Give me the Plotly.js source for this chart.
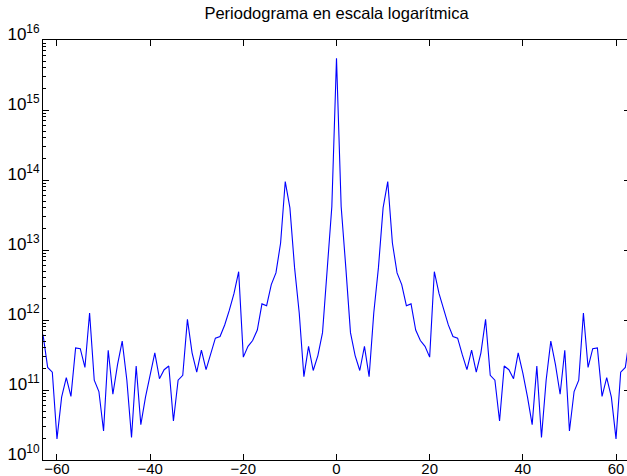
<!DOCTYPE html>
<html>
<head>
<meta charset="utf-8">
<script src="https://cdn.plot.ly/plotly-3.0.1.min.js"></script>
<style>
  html, body { margin: 0; padding: 0; overflow: hidden; background: #fff; }
  #chart { width: 633px; height: 476px; }
</style>
</head>
<body>
<div id="chart"></div>
<script>
// Frequency index (fftshift order) and periodogram power
const freq = [
  -63,-62,-61,-60,-59,-58,-57,-56,-55,-54,-53,-52,-51,-50,-49,-48,-47,-46,-45,-44,
  -43,-42,-41,-40,-39,-38,-37,-36,-35,-34,-33,-32,-31,-30,-29,-28,-27,-26,-25,-24,
  -23,-22,-21,-20,-19,-18,-17,-16,-15,-14,-13,-12,-11,-10,-9,-8,-7,-6,-5,-4,
  -3,-2,-1,0,1,2,3,4,5,6,7,8,9,10,11,12,13,14,15,16,
  17,18,19,20,21,22,23,24,25,26,27,28,29,30,31,32,33,34,35,36,
  37,38,39,40,41,42,43,44,45,46,47,48,49,50,51,52,53,54,55,56,
  57,58,59,60,61,62,63
];

const power = [
  6.2e11, 2.1e11, 1.8e11, 2.0e10, 7.9e10, 1.5e11, 8.1e10, 4.0e11, 3.9e11, 2.1e11,
  1.26e12, 1.38e11, 9.5e10, 2.6e10, 3.7e11, 8.7e10, 2.3e11, 5.0e11, 1.38e11, 2.1e10,
  2.2e11, 3.2e10, 7.9e10, 1.74e11, 3.4e11, 1.45e11, 1.95e11, 2.2e11, 3.6e10, 1.38e11,
  1.62e11, 1.02e12, 3.4e11, 1.8e11, 3.7e11, 1.95e11, 3.2e11, 5.5e11, 5.8e11, 8.5e11,
  1.38e12, 2.4e12, 4.9e12, 2.95e11, 4.2e11, 5.1e11, 7.2e11, 1.7e12, 1.6e12, 3.2e12,
  4.7e12, 1.26e13, 9.5e13, 4.0e13, 5.6e12, 1.26e12, 1.55e11, 4.2e11, 1.9e11, 3.1e11,
  6.6e11, 5.6e12, 4.17e13,
  5.5e15,
  4.17e13, 5.6e12, 6.6e11,
  3.1e11, 1.9e11, 4.2e11, 1.55e11, 1.26e12, 5.6e12, 4.0e13, 9.5e13, 1.26e13, 4.7e12,
  3.2e12, 1.6e12, 1.7e12, 7.2e11, 5.1e11, 4.2e11, 2.95e11, 4.9e12, 2.4e12, 1.38e12,
  8.5e11, 5.8e11, 5.5e11, 3.2e11, 1.95e11, 3.7e11, 1.8e11, 3.4e11, 1.02e12, 1.62e11,
  1.38e11, 3.6e10, 2.2e11, 1.95e11, 1.45e11, 3.4e11, 1.74e11, 7.9e10, 3.2e10, 2.2e11,
  2.1e10, 1.38e11, 5.0e11, 2.3e11, 8.7e10, 3.7e11, 2.6e10, 9.5e10, 1.38e11, 1.26e12,
  2.1e11, 3.9e11, 4.0e11, 8.1e10, 1.5e11, 7.9e10, 2.0e10, 1.8e11, 2.1e11, 6.2e11
];

// Axis ticks
const xTicks = [-60, -40, -20, 0, 20, 40, 60];
const xTickText = ['\u221260', '\u221240', '\u221220', '0', '20', '40', '60'];
const decades = [10, 11, 12, 13, 14, 15, 16];
const yTickVals = decades.map(d => Math.pow(10, d));
const yTickText = decades.map(d => '10<sup>' + d + '</sup>');
const minorVals = [];
decades.slice(0, -1).forEach(d => {
  for (let m = 2; m <= 9; m++) minorVals.push(m * Math.pow(10, d));
});

const font = { family: '"Liberation Sans", Arial, Helvetica, sans-serif', color: '#000' };

Plotly.newPlot('chart', [{
  x: freq,
  y: power,
  type: 'scatter',
  mode: 'lines',
  line: { color: '#0000ff', width: 1.1 },
  hoverinfo: 'skip'
}], {
  width: 633,
  height: 476,
  margin: { l: 43, r: 3, t: 40, b: 16, pad: 0 },
  paper_bgcolor: '#fff',
  plot_bgcolor: '#fff',
  showlegend: false,
  font: Object.assign({ size: 15 }, font),
  title: {
    text: 'Periodograma en escala logarítmica',
    font: Object.assign({ size: 16.5 }, font),
    x: 0.5, xref: 'paper', xanchor: 'center',
    y: 1 - 13 / 476, yref: 'container', yanchor: 'middle'
  },
  xaxis: {
    range: [-63, 63],
    tickmode: 'array',
    tickvals: xTicks,
    ticktext: xTickText,
    ticks: 'inside',
    ticklen: 6,
    tickwidth: 1,
    tickcolor: '#000',
    ticklabelstandoff: -5,
    showline: true,
    linecolor: '#000',
    linewidth: 1,
    mirror: 'ticks',
    showgrid: false,
    zeroline: false,
    tickfont: Object.assign({ size: 15 }, font)
  },
  yaxis: {
    type: 'log',
    range: [10, 16],
    tickmode: 'array',
    tickvals: yTickVals,
    ticktext: yTickText,
    ticks: 'inside',
    ticklen: 6,
    tickwidth: 1,
    tickcolor: '#000',
    ticklabelshift: -6,
    ticklabelstandoff: -1,
    minor: { tickmode: 'array', tickvals: minorVals, ticks: 'inside', ticklen: 3, tickcolor: '#000', showgrid: false },
    showline: true,
    linecolor: '#000',
    linewidth: 1,
    mirror: 'ticks',
    showgrid: false,
    zeroline: false,
    tickfont: Object.assign({ size: 17 }, font)
  }
}, { displayModeBar: false, staticPlot: true });
</script>
</body>
</html>
